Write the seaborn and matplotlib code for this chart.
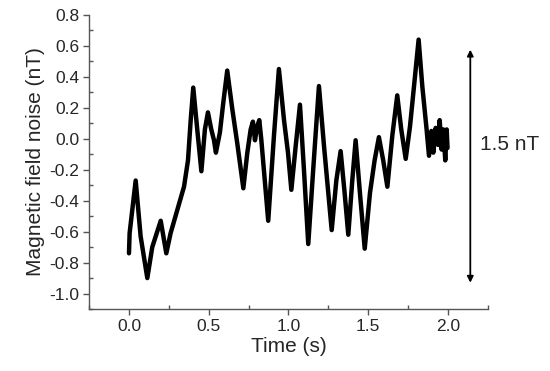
import numpy as np
import pandas as pd
import matplotlib
matplotlib.use("Agg")
import matplotlib.pyplot as plt
from matplotlib.ticker import MultipleLocator
import seaborn as sns

# Magnetic field noise trace
tiempo = [0.000, 0.004, 0.042, 0.073, 0.115, 0.146, 0.199, 0.234, 0.261, 0.303,
          0.345, 0.370, 0.387, 0.403, 0.428, 0.454, 0.476, 0.495, 0.516, 0.533,
          0.545, 0.570, 0.591, 0.616, 0.648, 0.679, 0.717, 0.742, 0.763, 0.777,
          0.790, 0.804, 0.817, 0.830, 0.873, 0.909, 0.940, 0.972, 0.997, 1.018,
          1.045, 1.072, 1.097, 1.124, 1.155, 1.191, 1.223, 1.271, 1.300, 1.327,
          1.352, 1.375, 1.400, 1.421, 1.448, 1.478, 1.511, 1.540, 1.567, 1.594,
          1.620, 1.651, 1.682, 1.707, 1.735, 1.762, 1.791, 1.816, 1.839, 1.866,
          1.881, 1.896, 1.908, 1.923, 1.938, 1.948, 1.960, 1.971, 1.983, 1.992,
          1.997]
ruido = [-0.74, -0.61, -0.27, -0.63, -0.90, -0.70, -0.53, -0.74, -0.61, -0.46,
         -0.31, -0.14, 0.12, 0.33, 0.06, -0.21, 0.06, 0.17, 0.06, -0.01,
         -0.09, 0.04, 0.23, 0.44, 0.19, -0.03, -0.32, -0.09, 0.06, 0.11,
         -0.01, 0.08, 0.12, -0.01, -0.53, 0.02, 0.45, 0.12, -0.09, -0.33,
         -0.05, 0.22, -0.20, -0.68, -0.20, 0.34, -0.05, -0.59, -0.27, -0.08,
         -0.35, -0.62, -0.27, -0.01, -0.35, -0.71, -0.35, -0.14, 0.01, -0.14,
         -0.31, 0.02, 0.28, 0.06, -0.13, 0.08, 0.38, 0.64, 0.34, 0.06,
         -0.11, 0.05, -0.09, 0.07, -0.04, 0.12, -0.07, 0.06, -0.14, 0.06,
         -0.06]

# Peak-to-peak arrow
flecha_t = 2.14
flecha_min = -0.93
flecha_max = 0.575
etiqueta = "1.5 nT"

y_ticks = [-1.0, -0.8, -0.6, -0.4, -0.2, 0.0, 0.2, 0.4, 0.6, 0.8]
x_ticks = [0.0, 0.5, 1.0, 1.5, 2.0]

dados = pd.DataFrame({"t": tiempo, "B": ruido})

sns.set_style("ticks")
plt.rcParams["font.family"] = ["Liberation Sans", "DejaVu Sans"]
plt.rcParams["axes.unicode_minus"] = False

fig = plt.figure(figsize=(5.5, 3.71), dpi=100)
ax = fig.add_axes([0.162, 0.167, 0.725, 0.793])

sns.lineplot(data=dados, x="t", y="B", sort=False, estimator=None,
             color="black", linewidth=3.2, ax=ax)

ax.annotate("", xy=(flecha_t, flecha_max), xytext=(flecha_t, flecha_min),
            arrowprops=dict(arrowstyle="<|-|>", color="black", lw=1.3,
                            mutation_scale=9, shrinkA=0, shrinkB=0))
ax.text(flecha_t + 0.06, -0.04, etiqueta, fontsize=15, ha="left", va="center")

ax.set_xlim(-0.25, 2.25)
ax.set_ylim(-1.1, 0.8)
ax.xaxis.set_minor_locator(MultipleLocator(0.25))
ax.yaxis.set_minor_locator(MultipleLocator(0.1))
ax.set_xticks(x_ticks)
ax.set_xticklabels([f"{v:.1f}" for v in x_ticks])
ax.set_yticks(y_ticks)
ax.set_yticklabels([f"{v:.1f}" for v in y_ticks])

ax.set_xlabel("Time (s)", fontsize=15, labelpad=2)
ax.set_ylabel("Magnetic field noise (nT)", fontsize=15, labelpad=3)

sns.despine(ax=ax)
for s in ["left", "bottom"]:
    ax.spines[s].set_color("#555555")
    ax.spines[s].set_linewidth(1.0)
ax.tick_params(which="major", direction="out", length=4, width=1,
               color="#555555", labelsize=12.5, pad=3)
ax.tick_params(which="minor", direction="in", length=3, width=1, color="#555555")

fig.savefig("out.png", dpi=100)
